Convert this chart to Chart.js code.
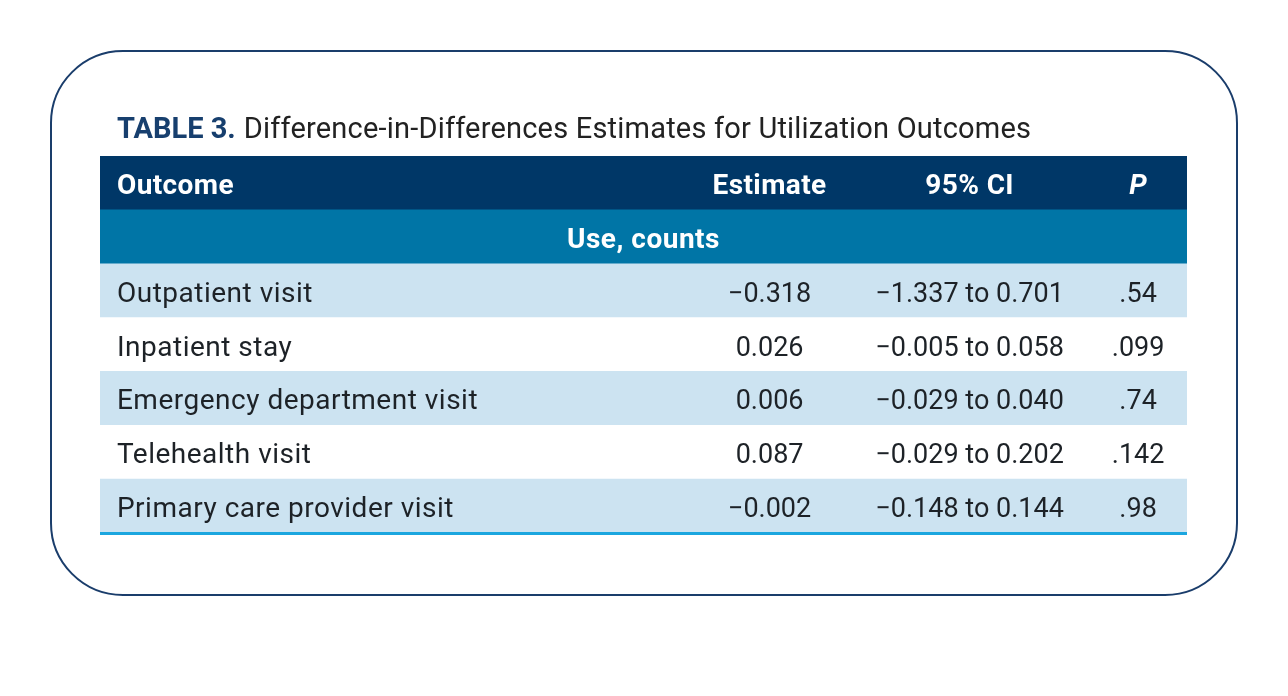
<!DOCTYPE html>
<html>
<head>
<meta charset="utf-8">
<script src="https://cdn.jsdelivr.net/npm/chart.js@4.4.1/dist/chart.umd.min.js"></script>
<style>
  html, body { margin: 0; padding: 0; background: #fff; }
  #wrap { width: 1288px; height: 696px; }
</style>
</head>
<body>
<div id="wrap"><canvas id="tableCanvas" width="1288" height="696"></canvas></div>
<script>
// table content
const tableLabel = 'TABLE 3.';
const tableTitle = 'Difference-in-Differences Estimates for Utilization Outcomes';
const headers = ['Outcome', 'Estimate', '95% CI', 'P'];
const sectionLabel = 'Use, counts';
const outcomes = [
  'Outpatient visit',
  'Inpatient stay',
  'Emergency department visit',
  'Telehealth visit',
  'Primary care provider visit'
];
const estimates = ['\u22120.318', '0.026', '0.006', '0.087', '\u22120.002'];
const ciLow = ['\u22121.337', '\u22120.005', '\u22120.029', '\u22120.029', '\u22120.148'];
const ciHigh = ['0.701', '0.058', '0.040', '0.202', '0.144'];
const pValues = ['.54', '.099', '.74', '.142', '.98'];

// rows: header, section, then one per outcome
const rowKeys = ['header', 'section', ...outcomes];
const rowColors = ['#003767', '#0075a6', '#cce3f1', '#ffffff', '#cce3f1', '#ffffff', '#cce3f1'];

// where each column's text sits on the 0..1 x scale
const colAnchors = [0.0156, 0.616, 0.8, 0.955];

const FONT = 'Roboto, "Noto Sans", sans-serif';

const tableTextPlugin = {
  id: 'tableText',
  beforeDraw(chart) {
    const ctx = chart.ctx;
    const area = chart.chartArea;
    ctx.save();
    // rounded frame
    const fx = 51, fy = 51, fw = 1186, fh = 544, r = 72;
    ctx.beginPath();
    ctx.roundRect(fx, fy, fw, fh, r);
    ctx.lineWidth = 2;
    ctx.strokeStyle = '#1a3d6b';
    ctx.stroke();

    // title line
    ctx.textBaseline = 'alphabetic';
    ctx.textAlign = 'left';
    ctx.font = `bold 29px ${FONT}`;
    ctx.fillStyle = '#173f6e';
    const tx = area.left + 17;
    const ty = area.top - 18;
    ctx.fillText(tableLabel, tx, ty);
    const lw = ctx.measureText(tableLabel).width;
    ctx.font = `29px ${FONT}`;
    ctx.letterSpacing = '0.2px';
    ctx.fillStyle = '#222';
    ctx.fillText(tableTitle, tx + lw + 8, ty);
    ctx.restore();
  },
  afterDatasetsDraw(chart) {
    const ctx = chart.ctx;
    const xs = chart.scales.x;
    const ys = chart.scales.y;
    const area = chart.chartArea;
    const cx = colAnchors.map(v => xs.getPixelForValue(v));
    const off = 11;
    ctx.save();
    ctx.textBaseline = 'alphabetic';

    // header row
    let y = ys.getPixelForValue(0) + off;
    ctx.fillStyle = '#ffffff';
    ctx.font = `bold 28px ${FONT}`;
    ctx.letterSpacing = '0.4px';
    ctx.textAlign = 'left';
    ctx.fillText(headers[0], cx[0], y);
    ctx.textAlign = 'center';
    ctx.fillText(headers[1], cx[1], y);
    ctx.fillText(headers[2], cx[2], y);
    ctx.font = `italic bold 28px ${FONT}`;
    ctx.fillText(headers[3], cx[3], y);

    // section row
    y = ys.getPixelForValue(1) + off;
    ctx.font = `bold 28px ${FONT}`;
    ctx.letterSpacing = '0.5px';
    ctx.fillText(sectionLabel, (area.left + area.right) / 2, y);

    // data rows
    ctx.fillStyle = '#1d2227';
    outcomes.forEach((name, i) => {
      y = ys.getPixelForValue(i + 2) + off;
      ctx.font = `28px ${FONT}`;
      ctx.letterSpacing = '0.5px';
      ctx.textAlign = 'left';
      ctx.fillText(name, cx[0], y);
      ctx.font = `27px ${FONT}`;
      ctx.letterSpacing = '0px';
      ctx.textAlign = 'center';
      ctx.fillText(estimates[i], cx[1], y);
      ctx.fillText(`${ciLow[i]} to ${ciHigh[i]}`, cx[2], y);
      ctx.fillText(pValues[i], cx[3], y);
    });

    // bottom rule
    ctx.beginPath();
    ctx.moveTo(area.left, area.bottom + 0.5);
    ctx.lineTo(area.right, area.bottom + 0.5);
    ctx.lineWidth = 3;
    ctx.strokeStyle = '#1ba6df';
    ctx.stroke();
    ctx.restore();
  }
};

new Chart(document.getElementById('tableCanvas'), {
  type: 'bar',
  data: {
    labels: rowKeys,
    datasets: [{
      data: rowKeys.map(() => [0, 1]),
      backgroundColor: rowColors,
      borderWidth: 0,
      barPercentage: 1,
      categoryPercentage: 1
    }]
  },
  options: {
    indexAxis: 'y',
    responsive: false,
    animation: false,
    devicePixelRatio: 1,
    layout: { padding: { left: 100, right: 101, top: 156, bottom: 163 } },
    plugins: { legend: { display: false }, tooltip: { enabled: false } },
    scales: {
      x: { type: 'linear', min: 0, max: 1, display: false },
      y: { type: 'category', display: false, offset: true }
    }
  },
  plugins: [tableTextPlugin]
});
</script>
</body>
</html>
